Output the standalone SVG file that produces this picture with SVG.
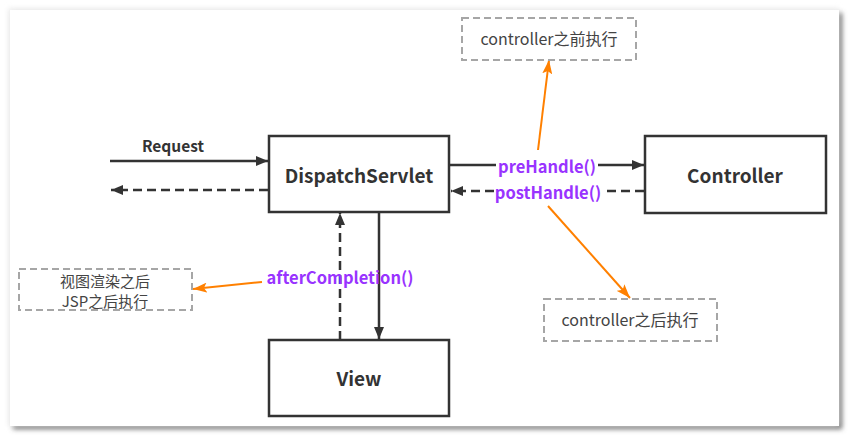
<svg xmlns="http://www.w3.org/2000/svg" width="850" height="437" viewBox="0 0 850 437">
<defs>
<style>
.node{fill:#fff;stroke:#333;stroke-width:2.5}
.note{fill:#fff;stroke:#a6a6a6;stroke-width:2;stroke-dasharray:7 4}
.lbl{font-family:"Noto Sans CJK SC","Open Sans",sans-serif;font-weight:bold;fill:#333;text-anchor:middle}
.ntxt{font-family:"Noto Sans CJK SC","Open Sans",sans-serif;font-size:16px;fill:#444;text-anchor:middle}
.ntxt2{font-family:"Noto Sans CJK SC","Open Sans",sans-serif;font-size:15px;fill:#444;text-anchor:middle}
.fn{font-family:"Noto Sans CJK SC","Open Sans",sans-serif;font-weight:bold;font-size:16.5px;fill:#9933ff;text-anchor:middle}
.ln{stroke:#333;stroke-width:2.5;fill:none}
.dash{stroke-dasharray:9 5}
.org{stroke:#ff8000;stroke-width:2;fill:none}
</style>
<marker id="ah" viewBox="0 0 12 10" refX="12" refY="5" markerWidth="12" markerHeight="10" markerUnits="userSpaceOnUse" orient="auto">
<path d="M0,0 L12,5 L0,10 Z" fill="#333"/>
</marker>
<marker id="ao" viewBox="0 0 14 10" refX="14" refY="5" markerWidth="14" markerHeight="10" markerUnits="userSpaceOnUse" orient="auto">
<path d="M0,0 L14,5 L0,10 L3,5 Z" fill="#ff8000"/>
</marker>
<filter id="sh" x="-5%" y="-5%" width="110%" height="110%">
<feGaussianBlur stdDeviation="2.5"/>
</filter>
</defs>
<rect width="850" height="437" fill="#fff"/>
<rect x="13" y="13" width="829" height="416" fill="#666" filter="url(#sh)"/>
<rect x="8" y="8" width="831" height="418" fill="#eee" filter="url(#sh)"/>
<rect x="10" y="10" width="829" height="416" fill="#fff"/>

<g id="connectors">
<line class="ln" x1="110" y1="161" x2="268" y2="161" marker-end="url(#ah)"/>
<line class="ln dash" x1="268" y1="190" x2="111" y2="190" marker-end="url(#ah)"/>
<line class="ln" x1="450" y1="165" x2="496" y2="165"/>
<line class="ln" x1="598" y1="165" x2="644" y2="165" marker-end="url(#ah)"/>
<line class="ln dash" x1="644" y1="191" x2="603" y2="191"/>
<line class="ln dash" x1="494" y1="191" x2="451" y2="191" marker-end="url(#ah)"/>
<line class="ln" x1="379" y1="212" x2="379" y2="339" marker-end="url(#ah)"/>
<line class="ln dash" x1="340" y1="340" x2="340" y2="213" marker-end="url(#ah)"/>
<line class="org" x1="538" y1="150" x2="549" y2="60" marker-end="url(#ao)"/>
<line class="org" x1="548" y1="206" x2="630" y2="298" marker-end="url(#ao)"/>
<line class="org" x1="262" y1="282" x2="193" y2="289" marker-end="url(#ao)"/>
<text class="fn" x="547" y="173">preHandle()</text>
<text class="fn" x="548" y="199">postHandle()</text>
<text class="fn" x="340" y="284">afterCompletion()</text>
<text class="lbl" x="173" y="152" font-size="15.5">Request</text>
</g>

<g id="dispatch">
<rect class="node" x="269" y="136" width="180" height="76"/>
<text class="lbl" x="359" y="183" font-size="19">DispatchServlet</text>
</g>
<g id="controller">
<rect class="node" x="645" y="136" width="181" height="77"/>
<text class="lbl" x="735" y="183" font-size="19">Controller</text>
</g>
<g id="view">
<rect class="node" x="269" y="340" width="180" height="76"/>
<text class="lbl" x="359" y="386" font-size="19">View</text>
</g>
<g id="note-before">
<rect class="note" x="462" y="18" width="174" height="42"/>
<text class="ntxt" x="549" y="45">controller之前执行</text>
</g>
<g id="note-after">
<rect class="note" x="544" y="299" width="173" height="42"/>
<text class="ntxt" x="630" y="326">controller之后执行</text>
</g>
<g id="note-view">
<rect class="note" x="19" y="269" width="173" height="41"/>
<text class="ntxt2" x="105" y="286.5">视图渲染之后</text>
<text class="ntxt2" x="105" y="307">JSP之后执行</text>
</g>
</svg>
